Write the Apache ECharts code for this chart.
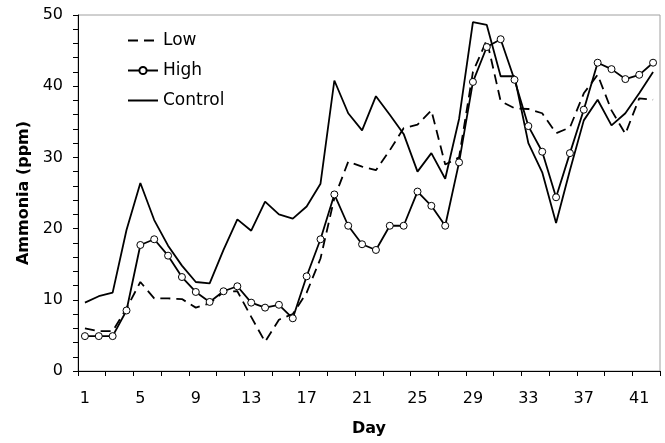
<!DOCTYPE html>
<html>
<head>
<meta charset="utf-8">
<script src="https://cdn.jsdelivr.net/npm/echarts@6/dist/echarts.min.js"></script>
<style>
  html, body { margin: 0; padding: 0; background: #fff; }
  #chart { width: 665px; height: 443px; }
</style>
</head>
<body>
<div id="chart"></div>
<script>
// 数据
var days = ['1','2','3','4','5','6','7','8','9','10','11','12','13','14','15','16','17','18','19','20','21',
            '22','23','24','25','26','27','28','29','30','31','32','33','34','35','36','37','38','39','40','41','42'];
var low = [6.0, 5.6, 5.6, 8.8, 12.5, 10.2, 10.2, 10.1, 8.9, 9.5, 11.1, 11.2, 7.6, 4.1, 7.2, 8.0, 11.0, 15.8, 24.3, 29.4, 28.7,
           28.2, 31.0, 34.1, 34.6, 36.6, 29.0, 30.0, 42.0, 46.5, 37.9, 36.9, 36.8, 36.2, 33.4, 34.2, 39.0, 41.6, 36.6, 33.3, 38.3, 38.1];
var high = [4.9, 4.9, 4.9, 8.5, 17.7, 18.5, 16.2, 13.2, 11.1, 9.7, 11.2, 11.9, 9.6, 8.9, 9.3, 7.4, 13.3, 18.5, 24.8, 20.4, 17.8,
            17.0, 20.4, 20.4, 25.2, 23.2, 20.4, 29.3, 40.6, 45.5, 46.6, 40.9, 34.4, 30.8, 24.4, 30.6, 36.7, 43.3, 42.4, 41.0, 41.6, 43.3];
var control = [9.6, 10.5, 11.0, 19.8, 26.4, 21.2, 17.6, 14.8, 12.5, 12.3, 17.0, 21.3, 19.7, 23.8, 22.0, 21.4, 23.1, 26.3, 40.8, 36.2, 33.8,
               38.6, 36.0, 33.3, 28.0, 30.6, 27.0, 35.4, 49.0, 48.6, 41.4, 41.4, 32.0, 27.9, 20.8, 28.2, 35.2, 38.1, 34.5, 36.2, 39.0, 42.0];

var myChart = echarts.init(document.getElementById('chart'));
var font = 'DejaVu Sans, sans-serif';

var option = {
    animation: false,
    textStyle: { fontFamily: font, color: '#000' },
    grid: {
        left: 78, top: 15, right: 5, bottom: 72,
        show: true, borderColor: '#a0a0a0', borderWidth: 1
    },
    legend: {
        orient: 'vertical',
        left: 127, top: 32,
        padding: 0,
        itemWidth: 30, itemHeight: 9, itemGap: 13,
        textStyle: { fontSize: 17, color: '#000', fontFamily: font },
        data: [
            { name: 'Low', itemStyle: { opacity: 0 } },
            { name: 'High' },
            { name: 'Control', itemStyle: { opacity: 0 } }
        ]
    },
    xAxis: {
        type: 'category',
        data: days,
        boundaryGap: true,
        name: 'Day',
        nameLocation: 'middle',
        nameGap: 50,
        nameTextStyle: { fontSize: 16, fontWeight: 'bold', color: '#000', fontFamily: font },
        axisLine: { lineStyle: { color: '#000', width: 1 } },
        axisTick: { show: true, interval: 1, length: 5, inside: false, lineStyle: { color: '#000' } },
        axisLabel: { interval: 3, fontSize: 16, color: '#000', margin: 20 },
        splitLine: { show: false }
    },
    yAxis: {
        type: 'value',
        min: 0, max: 50, interval: 10,
        name: 'Ammonia (ppm)',
        nameLocation: 'middle',
        nameGap: 36,
        nameTextStyle: { fontSize: 16, fontWeight: 'bold', color: '#000', fontFamily: font },
        axisLine: { show: true, lineStyle: { color: '#000', width: 1 } },
        axisTick: { show: true, length: 5, lineStyle: { color: '#000' } },
        minorTick: { show: true, splitNumber: 5, length: 5, lineStyle: { color: '#000' } },
        axisLabel: { fontSize: 16, color: '#000', margin: 15 },
        splitLine: { show: false }
    },
    series: [
        {
            name: 'Low', type: 'line', data: low,
            symbol: 'none',
            lineStyle: { color: '#000', width: 1.8, type: [10, 6] },
            itemStyle: { color: '#000' }
        },
        {
            name: 'High', type: 'line', data: high,
            symbol: 'circle', symbolSize: 7,
            lineStyle: { color: '#000', width: 1.8 },
            itemStyle: { color: '#fff', borderColor: '#000', borderWidth: 1 }
        },
        {
            name: 'Control', type: 'line', data: control,
            symbol: 'none',
            lineStyle: { color: '#000', width: 1.8 },
            itemStyle: { color: '#000' }
        }
    ]
};
myChart.setOption(option);
</script>
</body>
</html>
